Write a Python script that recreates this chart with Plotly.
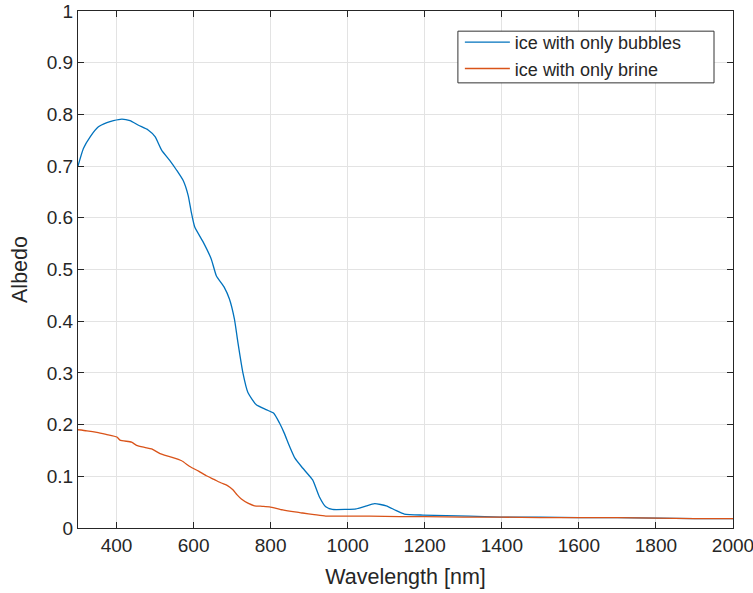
import plotly.graph_objects as go

# Wavelength [nm] and albedo for ice containing only air bubbles
bubbles_wl = [300, 314, 332, 353, 375, 392, 414, 435, 457, 482, 500, 517, 538, 556,
              573, 586, 594, 603, 625, 646, 659, 680, 693, 706, 715, 728, 741, 762,
              788, 808, 823, 835, 849, 863, 883, 909, 926, 943, 960, 995, 1022, 1045,
              1070, 1100, 1125, 1147, 1195, 1255, 1315, 1395, 1500, 1600, 1700, 1800,
              1900, 2000]
bubbles_albedo = [0.700, 0.734, 0.757, 0.776, 0.784, 0.788, 0.791, 0.788, 0.779, 0.770,
                  0.757, 0.731, 0.711, 0.692, 0.672, 0.643, 0.611, 0.582, 0.553, 0.520,
                  0.488, 0.465, 0.443, 0.404, 0.359, 0.300, 0.262, 0.239, 0.229, 0.222,
                  0.203, 0.184, 0.158, 0.135, 0.116, 0.093, 0.061, 0.041, 0.036, 0.036,
                  0.037, 0.042, 0.047, 0.043, 0.034, 0.027, 0.025, 0.024, 0.023, 0.021,
                  0.021, 0.020, 0.020, 0.019, 0.018, 0.018]

# Wavelength [nm] and albedo for ice containing only brine
brine_wl = [300, 323, 349, 373, 401, 409, 439, 452, 473, 491, 513, 538, 569, 590, 613,
            633, 653, 672, 688, 702, 713, 724, 741, 758, 778, 797, 831, 863, 883, 913,
            943, 995, 1057, 1135, 1200, 1300, 1400, 1500, 1600, 1700, 1800, 1900, 2000]
brine_albedo = [0.190, 0.188, 0.185, 0.181, 0.176, 0.170, 0.166, 0.160, 0.156, 0.153,
                0.144, 0.138, 0.130, 0.119, 0.110, 0.101, 0.094, 0.087, 0.082, 0.074,
                0.064, 0.056, 0.048, 0.043, 0.042, 0.041, 0.035, 0.031, 0.029, 0.026,
                0.023, 0.023, 0.023, 0.022, 0.022, 0.021, 0.021, 0.020, 0.020, 0.020,
                0.019, 0.018, 0.018]

x_ticks = [400, 600, 800, 1000, 1200, 1400, 1600, 1800, 2000]
y_ticks = [0, 0.1, 0.2, 0.3, 0.4, 0.5, 0.6, 0.7, 0.8, 0.9, 1]
y_tick_text = ["0", "0.1", "0.2", "0.3", "0.4", "0.5", "0.6", "0.7", "0.8", "0.9", "1"]

FONT = "Liberation Sans, Arial, sans-serif"
AXIS_COLOR = "#262626"
GRID_COLOR = "#e3e3e3"

fig = go.Figure()
fig.add_trace(go.Scatter(x=bubbles_wl, y=bubbles_albedo, mode="lines",
                         name="ice with only bubbles",
                         line=dict(color="#0072BD", width=1.3, shape="spline", smoothing=0.5)))
fig.add_trace(go.Scatter(x=brine_wl, y=brine_albedo, mode="lines",
                         name="ice with only brine",
                         line=dict(color="#D95319", width=1.3, shape="spline", smoothing=0.5)))

axis_common = dict(
    showline=True, linecolor=AXIS_COLOR, linewidth=1, mirror="ticks",
    ticks="inside", ticklen=6, tickcolor=AXIS_COLOR, tickwidth=1,
    showgrid=True, gridcolor=GRID_COLOR, gridwidth=1, zeroline=False,
    tickfont=dict(family=FONT, size=19, color=AXIS_COLOR),
    ticklabeloverflow="allow", automargin=False,
)

fig.update_xaxes(range=[300, 2000], tickvals=x_ticks,
                 title=dict(text="Wavelength [nm]", font=dict(family=FONT, size=21.5, color=AXIS_COLOR),
                            standoff=14),
                 **axis_common)
fig.update_yaxes(range=[0, 1], tickvals=y_ticks, ticktext=y_tick_text,
                 title=dict(text="Albedo", font=dict(family=FONT, size=21.5, color=AXIS_COLOR),
                            standoff=13),
                 **axis_common)

# Framed legend box (white fill hides the grid behind the entries)
fig.add_shape(type="rect", xref="paper", yref="paper",
              x0=0.580, x1=0.971, y0=0.861, y1=0.961,
              line=dict(color="#333333", width=1), fillcolor="white", layer="above")

fig.update_layout(
    width=753, height=593,
    margin=dict(l=78, r=20, t=11, b=65),
    plot_bgcolor="white", paper_bgcolor="white",
    font=dict(family=FONT, color=AXIS_COLOR),
    legend=dict(x=0.583, y=0.975, xanchor="left", yanchor="top",
                bgcolor="rgba(0,0,0,0)", borderwidth=0,
                font=dict(family=FONT, size=18, color=AXIS_COLOR),
                itemwidth=45, tracegroupgap=0),
    showlegend=True,
)

fig.write_html("out.html")
